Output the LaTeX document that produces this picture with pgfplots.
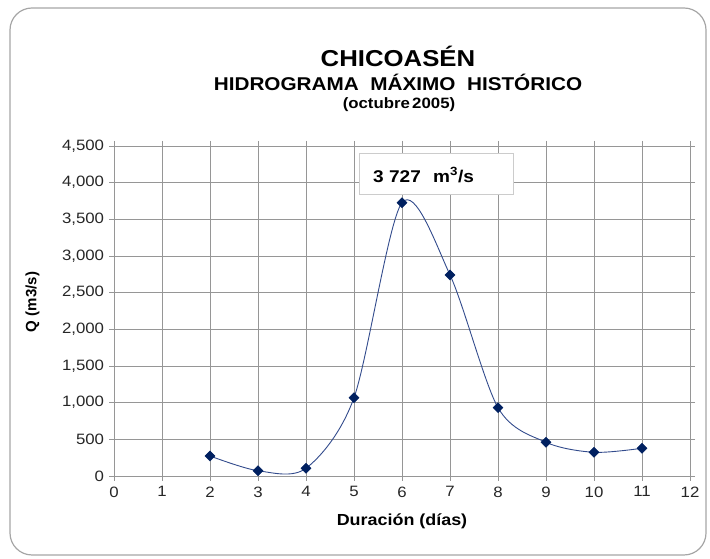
\documentclass[border=0pt]{standalone}
\usepackage{pgfplots}
\pgfplotsset{compat=1.18}
\usepackage{fontspec}
\setmainfont{Liberation Sans}
\definecolor{gridgray}{RGB}{150,150,150}
\definecolor{navy}{RGB}{0,32,96}
\definecolor{linecol}{RGB}{50,75,140}
\begin{document}
\begin{tikzpicture}
\useasboundingbox (0pt,0pt) rectangle (710pt,559pt);
\draw[gray!70, line width=1.2pt, rounded corners=22pt] (10pt,4pt) rectangle (706pt,551pt);
\begin{axis}[
  at={(114pt,83pt)}, anchor=south west,
  scale only axis, width=576pt, height=330pt,
  xmin=0, xmax=12, ymin=0, ymax=4500,
  xtick={0,1,...,12}, ytick={0,500,...,4500},
  grid=major,
  grid style={gridgray, line width=0.8pt},
  axis line style={gridgray, line width=0.8pt},
  tick style={gridgray, line width=0.8pt},
  tick align=outside, major tick length=5pt,
  tick label style={font=\fontsize{15}{17}\selectfont, text=black!85, xscale=1.12},
  /pgf/number format/assume math mode=true,
  /pgf/number format/.cd, 1000 sep={,}, fixed,
  /pgfplots/.cd,
  scaled y ticks=false,
  xticklabel shift=2pt,
  yticklabel shift=1pt,
]
\addplot[linecol, line width=0.9pt, smooth, tension=0.5, mark=diamond*, mark size=5pt,
  mark options={fill=navy, draw=navy, line width=0.5pt, xscale=1.33}]
  coordinates {(2,273) (3,72) (4,105) (5,1068) (6,3727) (7,2742) (8,932) (9,460) (10,323) (11,378)};
\end{axis}
\node[draw=gray!40, line width=1pt, fill=white, minimum width=154pt, minimum height=41pt, inner sep=0pt]
  at (436pt,385pt) {};
\node[anchor=west, inner sep=0pt, xscale=1.12] at (373pt,384pt) {\fontsize{17}{18}\selectfont\bfseries 3 727\hspace{11pt}m\textsuperscript{3}/s};
\node[xscale=1.12] at (398pt,503pt) {\fontsize{23}{26}\selectfont\bfseries CHICOASÉN};
\node[xscale=1.12] at (398pt,477pt) {\fontsize{18.5}{20}\selectfont\bfseries HIDROGRAMA~ MÁXIMO~ HISTÓRICO};
\node[xscale=1.12] at (399pt,454pt) {\fontsize{15}{16}\selectfont\bfseries (octubre\hspace{2pt}2005)};
\node[xscale=1.12] at (402pt,38pt) {\fontsize{16}{17}\selectfont\bfseries Duración (días)};
\node[rotate=90] at (32.5pt,257pt) {\fontsize{15}{17}\selectfont\bfseries Q (m3/s)};
\end{tikzpicture}
\end{document}
